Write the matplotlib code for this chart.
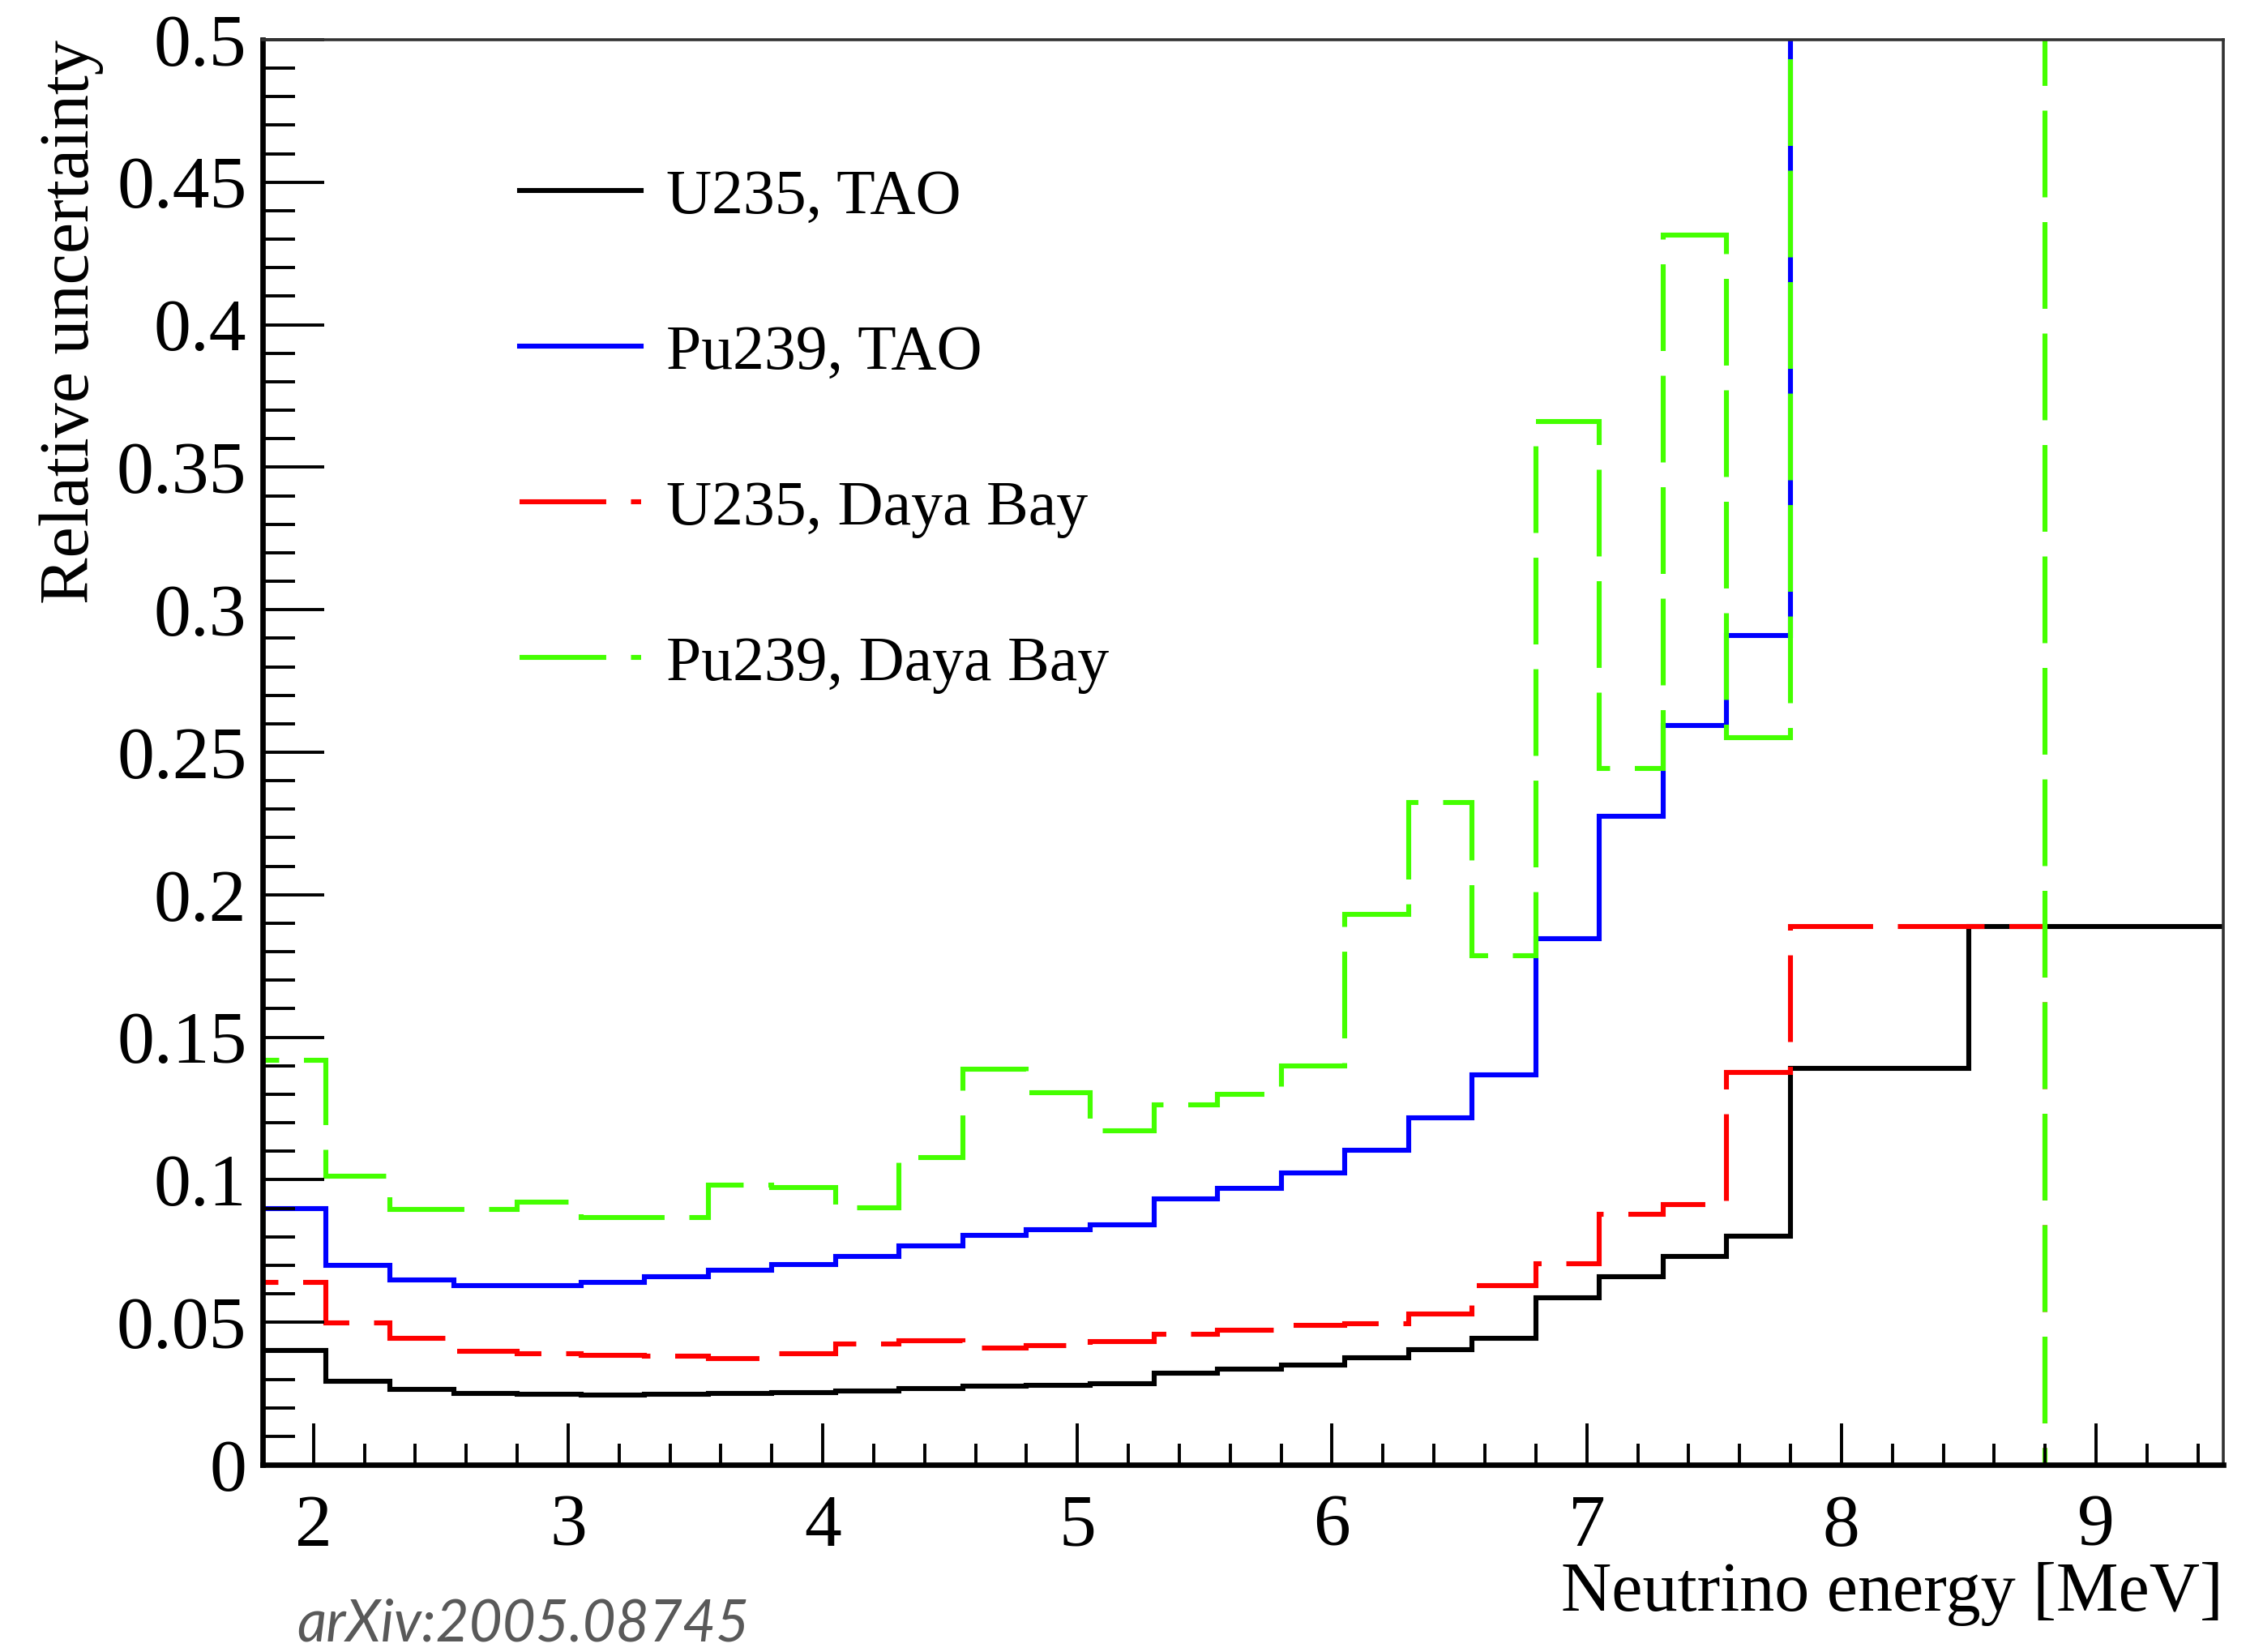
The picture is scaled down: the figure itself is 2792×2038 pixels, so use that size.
import numpy as np
import matplotlib
matplotlib.use("Agg")
import matplotlib.pyplot as plt
from matplotlib.ticker import MultipleLocator, FormatStrFormatter

plt.rcParams['font.family'] = ['Liberation Serif', 'DejaVu Serif']
plt.rcParams['mathtext.fontset'] = 'stix'

# bin edges [MeV]: 0.25 MeV bins from 1.8 to 7.8, then the wide high-energy bins
fine_edges = np.round(np.arange(1.8, 7.81, 0.25), 2)
tao_edges = np.append(fine_edges, [8.5, 10.0])
dyb_edges = np.append(fine_edges, [8.8])

# relative uncertainty per bin
u235_tao = [0.040, 0.0294, 0.0265, 0.0251, 0.0248, 0.0246, 0.0247, 0.0251,
            0.0254, 0.0260, 0.0267, 0.0275, 0.0280, 0.0285, 0.0322, 0.0335,
            0.0349, 0.0376, 0.0404, 0.0443, 0.0585, 0.0660, 0.0731, 0.0802,
            0.139, 0.189]
pu239_tao = [0.090, 0.0701, 0.0649, 0.0630, 0.0630, 0.0640, 0.0660, 0.0682,
             0.0702, 0.0731, 0.0768, 0.0805, 0.0825, 0.0843, 0.0932, 0.0969,
             0.1024, 0.1103, 0.1218, 0.1367, 0.1845, 0.2276, 0.2595, 0.2910,
             0.80, 1.00]
u235_dyb = [0.064, 0.0498, 0.0445, 0.0398, 0.0389, 0.0384, 0.0381, 0.0374,
            0.0389, 0.0423, 0.0435, 0.0409, 0.0417, 0.0432, 0.0459, 0.0473,
            0.0489, 0.0495, 0.0529, 0.0628, 0.0706, 0.0879, 0.0913, 0.1376,
            0.189]
pu239_dyb = [0.142, 0.1014, 0.0896, 0.0896, 0.0921, 0.0867, 0.0867, 0.0982,
             0.0972, 0.0901, 0.1077, 0.1387, 0.1306, 0.1173, 0.1263, 0.1299,
             0.1400, 0.1930, 0.2323, 0.1786, 0.3660, 0.2442, 0.4315, 0.2550,
             0.70]

labels = ["U235, TAO", "Pu239, TAO", "U235, Daya Bay", "Pu239, Daya Bay"]

fig = plt.figure(figsize=(13.96, 10.19), dpi=200)
ax = fig.add_axes([0.116, 0.1133, 0.8665, 0.8627])

lw = 2.2
dash = (0, (17.5, 5))
ax.stairs(u235_tao, tao_edges, baseline=0, color='black', lw=lw, label=labels[0])
ax.stairs(pu239_tao, tao_edges, baseline=0, color='#0000ff', lw=lw, label=labels[1])
ax.stairs(u235_dyb, dyb_edges, baseline=0, color='#ff0000', lw=lw,
          linestyle=dash, label=labels[2])
ax.stairs(pu239_dyb, dyb_edges, baseline=0, color='#44ff00', lw=lw,
          linestyle=dash, label=labels[3])

ax.set_xlim(1.8, 9.5)
ax.set_ylim(0, 0.5)

# ROOT-like axes: inward ticks on left and bottom only
ax.xaxis.set_major_locator(MultipleLocator(1))
ax.xaxis.set_minor_locator(MultipleLocator(0.2))
ax.yaxis.set_major_locator(MultipleLocator(0.05))
ax.yaxis.set_minor_locator(MultipleLocator(0.01))
ax.yaxis.set_major_formatter(FormatStrFormatter('%g'))
ax.tick_params(axis='both', which='both', direction='in', top=False, right=False,
               width=1.4, labelsize=33)
ax.tick_params(axis='y', which='major', length=27.5, pad=7)
ax.tick_params(axis='y', which='minor', length=14.5)
ax.tick_params(axis='x', which='major', length=18.5, pad=13)
ax.tick_params(axis='x', which='minor', length=9.5)

for side in ['left', 'bottom']:
    ax.spines[side].set_linewidth(2.4)
    ax.spines[side].set_color('black')
for side in ['top', 'right']:
    ax.spines[side].set_linewidth(1.3)
    ax.spines[side].set_color('#333333')

ax.set_xlabel("Neutrino energy [MeV]", fontsize=31, loc='right')
ax.xaxis.set_label_coords(1.0, -0.068)
ax.set_ylabel("Relative uncertainty", fontsize=31, loc='top')
ax.yaxis.set_label_coords(-0.081, 1.0)

ax.legend(loc='upper left', bbox_to_anchor=(0.131, 0.9095), frameon=False,
          fontsize=28, handlelength=1.93, handletextpad=0.4, labelspacing=1.55,
          borderpad=0, borderaxespad=0)

fig.text(0.131, 0.0165, "arXiv:2005.08745", fontsize=25.5, style='italic',
         family=['Lato', 'DejaVu Sans'], color='#595959', va='center', ha='left')

fig.savefig("out.png", dpi=200)
